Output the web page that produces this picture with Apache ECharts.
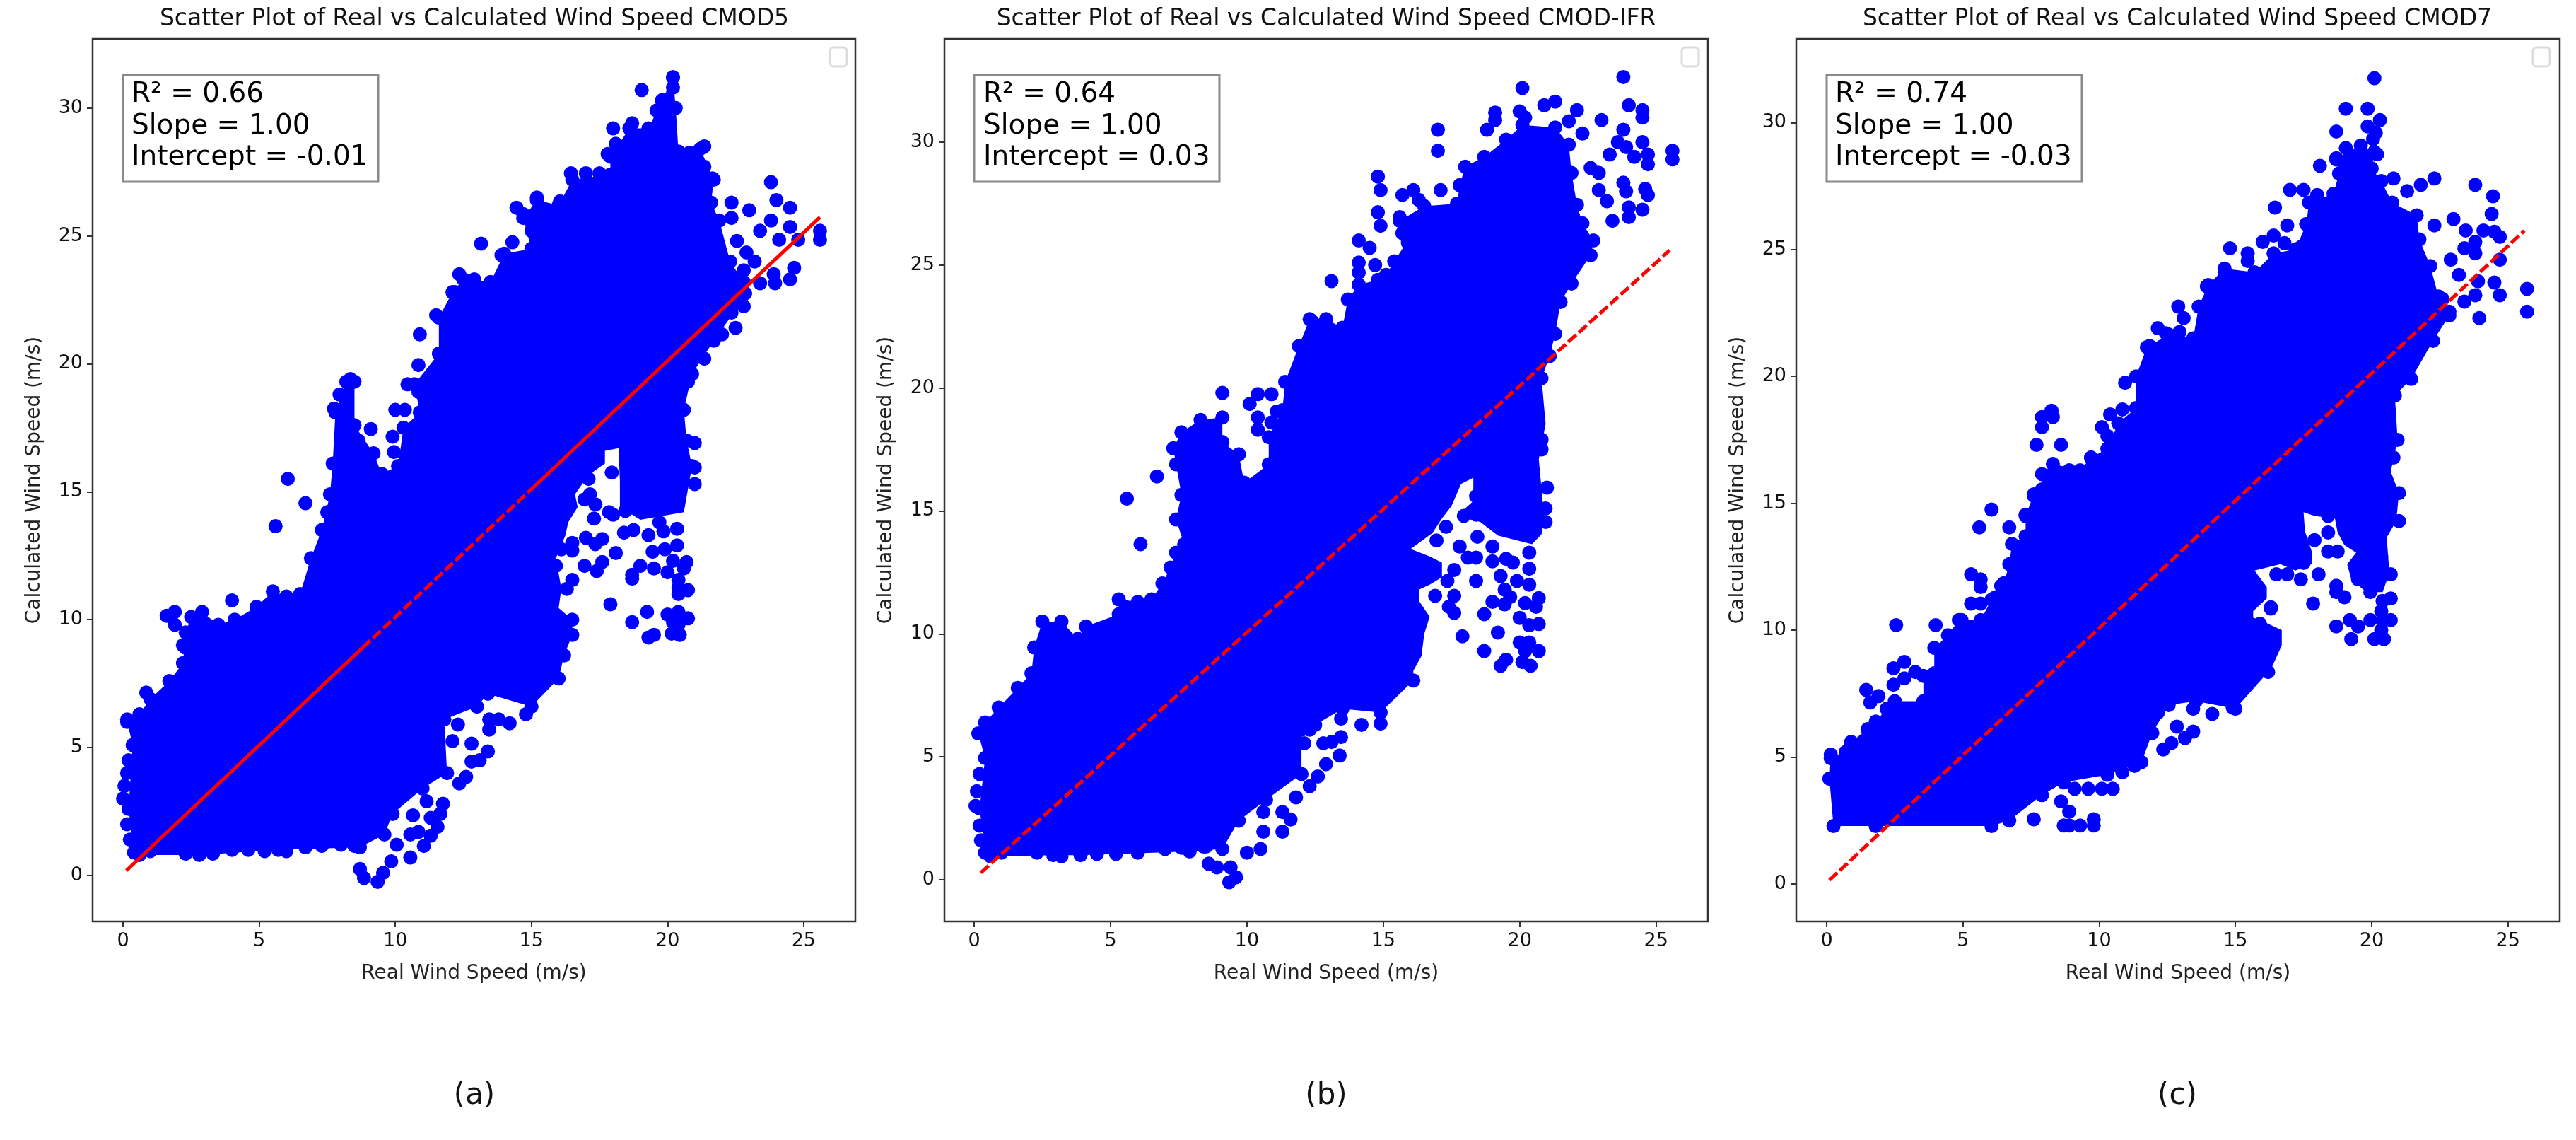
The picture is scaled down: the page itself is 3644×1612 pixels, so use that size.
<!DOCTYPE html>
<html><head><meta charset="utf-8">
<style>html,body{margin:0;padding:0;background:#fff}#c{width:3644px;height:1612px}</style>
<script src="https://cdn.jsdelivr.net/npm/echarts@6/dist/echarts.min.js"></script>
</head><body><div id="c"></div>
<script>
const titles = ["Scatter Plot of Real vs Calculated Wind Speed CMOD5","Scatter Plot of Real vs Calculated Wind Speed CMOD-IFR","Scatter Plot of Real vs Calculated Wind Speed CMOD7"];
const panelLabels = ["(a)","(b)","(c)"];
const xTicks = [0,5,10,15,20,25];
const yTicks = [0,5,10,15,20,25,30];
const statsA = ["R² = 0.66","Slope = 1.00","Intercept = -0.01"];
const statsB = ["R² = 0.64","Slope = 1.00","Intercept = 0.03"];
const statsC = ["R² = 0.74","Slope = 1.00","Intercept = -0.03"];
const fitA1 = [[0.12,0.19],[8.8,8.9]];
const fitA2 = [[8.8,8.9],[14.9,15.0]];
const fitA3 = [[14.9,15.0],[25.6,25.73]];
const fitB = [[0.24,0.28],[25.5,25.6]];
const fitC = [[0.1,0.15],[25.6,25.74]];
// outline of the fully saturated cloud of points, read clockwise off the picture.
// A third value of 0 marks an outline vertex with no visible point of its own (an edge of a gap).
const coreA = [[0.4,0.9],[0.2,2.6],[0.35,5.1],[0.15,6.0],[0.6,6.3],[1.0,6.9],[1.7,7.6],[2.2,8.3],[2.3,9.5],[2.5,10.1],[2.9,10.3],[3.5,9.8],[4.1,10.0],[4.9,10.5],[5.5,11.1],[6,10.9],[6.5,11],[6.9,12.4],[7.3,13.5],[7.6,14.9],[7.7,16.1],[7.8,18.1],[8.2,19.3],[8.5,19.3],[8.5,17.6],[9.2,16.5],[9.5,15.7],[10.1,16],[10.3,17.5],[10.9,18.1],[10.7,19.2],[11.6,20.4],[11.6,21.8],[12.1,22.8],[12.5,23.3],[13.5,23.2],[14,24.3],[15,24.5],[14.7,25.7],[15.2,26.4],[16,26.2],[16.5,27.2],[17.9,27.4],[17.9,28.1],[18.6,29.2],[19.3,29.2],[19.8,30.3],[20.2,31.2],[20.3,30],[20.4,28.3],[21.2,28.4],[21.7,27.2],[21.6,26.3],[21.9,25.6],[22.3,24],[22.8,23.2],[22.7,22.4],[21.7,20.9],[20.9,19.6],[20.6,18.2],[20.7,17],[20.9,16],[20.6,14.2,0],[19,13.9,0],[18.7,14.1,0],[18.25,14.15,0],[18.25,15.4,0],[18.2,16.7,0],[17.7,16.6,0],[17.7,16.1,0],[17.3,15.8,0],[16.9,15.35,0],[16.6,14.9,0],[16.7,14.4,0],[16.35,13.8,0],[16.25,13.3,0],[15.9,12.4,0],[16.1,11.2,0],[16,10.45,0],[16.5,10],[16.5,9.4],[16.2,8.6],[16,7.7],[15,6.6],[13.4,7.1],[13,6.6],[11.8,6.1],[11.9,4],[11,3.4],[9.9,2.4],[9.6,1.6],[8.7,1.1],[5.7,1],[2.8,0.8],[0.6,0.8]];
const coreB = [[0.4,1.1],[0.2,2.9],[0.4,4.95],[0.15,5.95],[0.4,6.4],[0.9,7],[1.6,7.8],[2.1,8.4],[2.2,9.45],[2.5,10.5],[3.2,10.5],[3.8,9.8],[4.1,10.3],[5.3,10.8],[5.3,11.4],[6,11.3],[6.5,11.4],[6.9,12.05],[7.2,12.7],[7.4,13.3],[7.7,13.65],[7.4,14.65],[7.6,15.65],[7.4,16.9],[7.3,17.55],[7.6,18.2],[8.3,18.7],[9.1,18.8],[9.1,17.8],[9.7,17.3],[9.9,16.15],[10.8,16.9],[10.8,18],[11.3,19.1],[11.4,20.25],[11.9,21.7],[12.3,22.8],[12.9,22.8],[13.5,22.45],[13.7,23.6],[14.1,24.2],[14.8,24.4],[15.1,24.6],[15.4,25.15],[15.9,26],[15.6,26.8],[16.5,27.4],[17.7,27.5],[17.8,28.25],[18,29],[18.7,29.4],[19.5,30.1],[20.1,30.7],[21.3,30.6],[21.8,29.9],[21.9,28.75],[22.1,27.45],[22.3,26.7],[22.7,26],[22.6,25.4],[21.9,24.25],[21.5,23.5],[21.3,22.2],[21.1,21.3],[20.8,20.4],[20.95,18.54,0],[20.7,17.1,0],[20.9,14.7,0],[20.8,14.05,0],[20.45,13.65,0],[19.2,14,0],[18.55,14.55,0],[17.7,14.8,0],[18.3,15.4,0],[18.3,16.35,0],[17.85,16.1,0],[17.5,15.2,0],[17.15,14.7,0],[16.8,14.1,0],[16,13.45,0],[16.7,13.15,0],[17.15,12.9,0],[17.15,12.3,0],[16.7,12,0],[16.3,11.8,0],[16.3,11.35,0],[16.7,10.7,0],[16.5,10,0],[16.4,9.1,0],[16.1,8.5,0],[16.1,8.1],[14.9,6.8],[13.5,6.95],[12.5,6.3],[12,6.1],[12,4.3],[10.7,3.25],[9.7,2.4],[9.1,1.25],[7.9,1.15],[3.9,1],[2.9,1],[0.6,0.95]];
const coreC = [[0.25,2.28],[0.1,4.15],[0.15,4.95],[0.7,5.2],[0.9,5.6],[1.5,6.1],[1.8,6.4],[2.2,6.9],[2.5,7.2],[3.55,7.2],[3.55,8.2],[3.95,8.3],[3.95,9.3],[4.45,9.8],[4.85,10.4],[5.65,10.4],[6.05,11.2],[6.5,11.85],[6.7,12.6],[6.8,13.4],[7.3,13.7],[7.3,14.5],[7.6,15.35],[7.9,15.55],[7.9,16.15],[8.3,16.55],[9.3,16.3],[9.7,16.8],[10.3,17.15],[10.7,18.15],[11.35,18.75],[11.35,20],[11.75,21.15],[12.55,21.65],[13.45,21.5],[13.65,22.75],[14,23.6],[14.6,24.25],[15.7,24.1],[16.4,24.85],[17.2,25],[17.6,26],[17.7,26.85],[18.6,27.2],[18.8,28],[18.7,28.6],[19.6,29.1],[20.1,28.85],[20,28.2],[20.35,27.7],[20.75,26.85],[21.65,26.35],[21.75,25.4],[22.15,24.35],[22.45,23.15],[22.85,22.4],[22.25,21.4],[21.45,19.9],[20.85,19.25],[20.95,17.5,0],[20.7,16.25,0],[21,15.4,0],[20.9,14.3,0],[20.55,13.65,0],[20.65,12.25,0],[20.4,11.5,0],[19.8,11.5,0],[19.25,12,0],[19.1,12.6,0],[19.43,13.05,0],[19,13.35,0],[18.75,13.85,0],[18.65,14.4,0],[17.9,14.5,0],[17.5,14.65,0],[17.55,13.9,0],[17.8,13.1,0],[17.8,12.6,0],[17.2,12.35,0],[16.65,12.6,0],[15.7,12.35,0],[16.15,11.7,0],[16.15,11.25,0],[15.65,10.75,0],[15.65,10.5,0],[16,10.35,0],[16.7,10,0],[16.7,9.4,0],[16.3,8.45,0],[16.2,8.35],[15,6.9],[13.55,7.2],[12.55,7.05],[11.95,5.95],[11.55,4.8],[10.3,4.3],[8.7,4],[7.9,3.5],[6.7,2.5],[6.05,2.28],[1.8,2.28]];
// individually visible points outside the saturated cloud
const dotsA = [[1,0.95],[1.5,1.15],[2.3,0.85],[3.3,0.85],[4,1],[4.6,1],[5.2,0.95],[6,0.95],[6.7,1.1],[7.3,1.15],[8,1.2],[0.25,1.4],[0.15,2],[0,3],[0.05,3.5],[0.15,4],[0.2,4.5],[2.2,9],[2.3,8.9],[20.2,31.2],[20.2,30.8],[19.05,30.7],[19.8,30.3],[19.6,29.9],[18,29.2],[18.7,29.4],[18.1,28.6],[17.8,28.2],[21.35,28.5],[20.8,28.25],[21.35,27.7],[16.45,27.45],[17,27.45],[17.5,27.45],[21.65,27.25],[23.8,27.1],[24,26.4],[24.5,26.1],[22.35,26.3],[23,26],[22.35,25.7],[25.6,25.2],[25.6,24.85],[15.2,26.5],[14.45,26.1],[14.7,25.85],[15.45,26.05],[16.05,26.35],[15,25.2],[13.15,24.7],[14.3,24.75],[13.9,24.25],[12.35,23.5],[12.9,23.3],[12.2,22.8],[11.5,21.9],[10.9,21.15],[10.85,19.95],[10.45,19.2],[10.85,18.9],[10,18.2],[10.35,18.2],[9.1,17.45],[9.9,17.15],[8.65,17],[9.95,16.55],[8.35,19.4],[7.95,18.8],[7.75,18.25],[6.05,15.5],[22.55,24.8],[22.9,24.35],[23.4,25.2],[23.8,25.6],[24.5,25.35],[24.8,24.85],[24.1,24.85],[23.2,24],[22.8,23.65],[23.9,23.5],[24.65,23.75],[24.5,23.3],[23.95,23.15],[23.4,23.15],[22.65,23.1],[22.85,22.75],[22.8,22.25],[22.35,22],[22.5,21.4],[22,21.15],[21.35,20.2],[20.75,19.3],[21,16.9],[21,15.95],[21,15.3],[17.95,15.75],[17.1,15.5],[17.15,14.9],[16.95,14.7],[17.35,14.5],[17.85,14.2],[18,14.1],[17.3,13.95],[18.45,14.25],[19,14.25],[18.4,13.4],[18.75,13.5],[19.3,13.3],[19.85,13.45],[20.35,13.55],[19.7,13.8],[17,13.2],[17.35,12.95],[17.6,13.15],[16.5,13],[16.5,12.7],[16.1,12.75],[18.1,12.6],[16.95,12.1],[17.6,12.25],[17.4,11.9],[16.5,11.55],[16.3,11.2],[15.9,12.1],[18.7,11.6],[18.7,11.75],[19,12.1],[19.45,12.65],[19.5,12],[19.9,12.75],[20.35,12.9],[20,11.85],[20.2,12.3],[20.7,12.25],[20.6,12],[20.4,11.55],[20.4,11.25],[20.75,11.15],[20.4,11],[17.9,10.6],[19.25,10.3],[18.7,9.9],[19.5,9.4],[19.3,9.3],[20,10.2],[20.4,10.3],[20.75,10.05],[20.15,9.45],[20.45,9.4],[20.2,9.9],[20.4,9.8],[6.7,14.55],[5.6,13.65],[7.5,14.2],[4,10.75],[1.6,10.15],[1.9,10.3],[1.9,9.8],[0.85,7.15],[0.15,6.1],[14.8,6.3],[14.2,5.95],[13.8,6.1],[13.45,6.1],[12.3,5.9],[13.45,5.7],[12.8,5.15],[13.4,4.85],[12.1,5.25],[12.8,4.45],[13.1,4.5],[12.6,3.85],[12.35,3.6],[11.15,2.9],[11.75,2.8],[10.65,2.35],[11.3,2.25],[11.65,2.4],[11.55,1.9],[11.3,1.55],[10.55,1.6],[10.85,1.7],[11.05,1.15],[10.55,0.7],[10.05,1.2],[9.85,0.55],[9.55,0.1],[9.35,-0.25],[8.85,-0.1],[8.7,0.25],[8.5,1.15]];
const dotsB = [[1,1.1],[1.6,1.25],[2.3,1.1],[3.2,0.95],[4.5,1.05],[5.2,1.05],[6,1.1],[7,1.25],[7.6,1.3],[8.4,1.35],[0.25,1.6],[0.2,2.2],[0.05,3],[0.1,3.6],[0.2,4.3],[20.1,32.2],[23.8,32.65],[21.3,31.65],[20.9,31.5],[24,31.5],[24.5,31.3],[22.1,31.3],[24.5,31],[23,30.9],[21.8,30.85],[20,31.25],[20.2,31],[19.1,31.2],[19.1,30.9],[18.8,30.5],[17,30.5],[17,29.65],[22.3,30.35],[23.8,30.5],[25.6,29.65],[25.6,29.3],[24.7,29.1],[24.7,29.5],[23.6,30],[24.5,30],[23.3,29.5],[23.9,29.8],[24.2,29.4],[22.6,28.95],[22.9,28.75],[23.8,28.35],[22.9,28.05],[23.9,28],[24.6,28.1],[24.7,27.85],[23.2,27.6],[24,27.35],[24.5,27.25],[24,26.95],[23.4,26.8],[14.8,28.6],[14.9,28.05],[16.1,28.05],[17.1,28.05],[15.7,27.85],[14.8,27.15],[15.6,26.95],[16.3,27.65],[14.9,26.6],[14.1,26],[14.5,25.7],[14.1,25.1],[14.7,25],[14.1,24.7],[13.1,24.35],[15.7,26.3],[15.9,25.9],[12.4,22.7],[9.1,19.8],[10.4,19.75],[10.9,19.75],[10.1,19.35],[10.4,18.8],[10.9,18.6],[11.1,19.05],[10.4,18.3],[9.7,17.3],[6.7,16.4],[21,15.95],[20.95,15.1],[20.95,14.55],[20.8,17.5],[20.8,17.9],[18.4,15.6],[18.9,15.35],[17.95,14.8],[18.4,14.85],[17.3,14.35],[16.95,13.8],[18.45,13.95],[17.8,13.55],[18.1,13.1],[18.4,13.1],[19,13.55],[19,12.95],[19.5,13.05],[19.75,12.9],[20.35,13.3],[20.35,12.65],[17.6,12.6],[17.35,12.15],[18.4,12.15],[19.3,12.35],[19.9,12.15],[20.35,12],[16.9,11.55],[17.6,11.55],[17.4,11.1],[17.6,10.85],[18.7,10.8],[19,11.3],[19.45,11.8],[19.65,11.5],[19.45,11.2],[20.2,11.25],[20.7,11.45],[20.6,11.1],[20,10.65],[20.35,10.35],[20.7,10.4],[17.9,9.9],[19.2,10.05],[18.7,9.3],[19.5,8.95],[19.3,8.7],[20,9.65],[20.35,9.65],[20.7,9.3],[20.1,8.85],[20.4,8.7],[20.2,9.3],[6.1,13.65],[5.6,15.5],[9.1,15.4],[12.3,3.8],[12.6,4.2],[12.9,4.7],[13.4,5.05],[13.1,5.6],[12.8,5.55],[13.45,5.8],[12.3,6.1],[12.1,5.55],[14.2,6.3],[14.9,6.35],[13.45,6.55],[11.8,3.35],[11.6,2.45],[11.3,2.75],[10.6,2.75],[11.3,1.95],[10.6,1.95],[10.5,1.25],[10,1.1],[9.4,0.5],[9.6,0.1],[9.35,-0.1],[8.9,0.5],[8.6,0.65],[8.5,1.35]];
const dotsC = [[20.1,31.75],[19.05,30.55],[19.85,30.55],[20.3,30.1],[19.85,29.85],[18.7,29.65],[20.15,29.6],[20.05,29.35],[19.05,29],[18.7,28.55],[18.1,28.3],[20.2,28.75],[20.8,27.8],[22.3,27.8],[21.8,27.55],[21.3,27.3],[23.8,27.55],[24.45,27.1],[24.4,26.4],[23,26.2],[22.3,25.95],[23.45,25.75],[24.1,25.75],[24.5,25.7],[24.7,25.5],[23.8,25.3],[23.4,25.05],[22.9,24.6],[24.7,24.6],[23.8,24.85],[23.2,24],[24.5,23.7],[23.9,23.75],[24.7,23.2],[25.7,23.45],[25.7,22.55],[23.95,22.3],[23.8,23.2],[23.4,22.95],[22.6,23.05],[22.85,22.55],[17,27.35],[17.5,27.35],[18,27.15],[16.45,26.65],[16.9,25.95],[17.6,26],[14.8,25.05],[15.45,24.85],[15.45,24.55],[16,25.3],[16.4,25.55],[16.8,25.25],[17.4,25.1],[13.95,23.55],[14.6,24.1],[12.9,22.75],[13.1,22.3],[12.15,21.9],[12.45,21.7],[12.95,21.75],[11.85,21.2],[10.95,19.75],[11.55,20],[10.85,18.7],[10.4,18.5],[8.25,18.65],[7.9,18],[7.7,17.3],[8.6,17.3],[9.7,16.8],[10.1,18],[10.3,17.65],[8.9,16.3],[7.9,18.4],[8.3,18.4],[7.6,15.3],[6.05,14.75],[5.6,14.05],[6.7,14.05],[7.3,14.55],[5.3,12.2],[5.65,12],[5.65,11.7],[5.3,11.05],[5.65,11.05],[6.2,11.3],[6.4,11.75],[2.55,10.2],[4,10.2],[4.95,10.4],[2.85,8.75],[2.45,8.5],[2.45,7.85],[3.25,8.35],[2.85,8.1],[1.45,7.65],[1.9,7.4],[1.6,7.15],[0.9,5.55],[0.15,5.1],[0.1,4.15],[7.6,2.55],[8.6,3.25],[8.9,2.85],[8.7,2.3],[8.9,2.3],[9.3,2.3],[9.8,2.55],[9.8,2.3],[9.1,3.75],[9.6,3.75],[10.1,3.75],[10.5,3.75],[11.3,4.65],[10.85,4.4],[12.35,5.3],[12.65,5.55],[13.15,5.75],[13.45,6],[12.85,6.2],[13.45,6.9],[14.15,6.7],[14.9,6.95],[12.15,6.75],[12.55,7.15],[16.3,10.9],[15.9,10.25],[20.7,11.25],[20.4,11.15],[20.35,10.75],[20.7,10.4],[19.95,10.4],[20.4,10.4],[20.1,9.65],[20.45,9.65],[20.35,10],[19.2,10.4],[19.5,10.15],[18.7,10.15],[19.25,9.65],[17.85,11.05],[18.7,11.75],[18.7,11.5],[19,11.3],[19.5,12],[19.95,11.5],[20.7,12.2],[16.3,10.85],[18.05,12.2],[17.4,12],[16.9,12.2],[16.5,12.2],[17.5,12.65],[18.4,13.85],[17.9,13.55],[18.4,13.1],[18.75,13.1],[18.4,14.5],[21,15.4],[21,14.3],[20.95,17.5],[20.8,16.8],[20.35,12.9]];

const DASH=[15,5];
const panels = [
 {title:titles[0],label:panelLabels[0],stats:statsA,fits:[[fitA1,'solid'],[fitA2,DASH],[fitA3,'solid']],core:coreA,dots:dotsA,left:131,w:1079,xr:[-1.12,26.9],yr:[-1.8,32.7],cx:671,box:[174,361],textX:186,legX:1174},
 {title:titles[1],label:panelLabels[1],stats:statsB,fits:[[fitB,DASH]],core:coreB,dots:dotsB,left:1336,w:1080,xr:[-1.09,26.9],yr:[-1.7,34.2],cx:1876,box:[1378,347],textX:1391,legX:2379},
 {title:titles[2],label:panelLabels[2],stats:statsC,fits:[[fitC,DASH]],core:coreC,dots:dotsC,left:2541,w:1080,xr:[-1.115,26.9],yr:[-1.48,33.3],cx:3080,box:[2584,361],textX:2596,legX:3583}
];
const TOP=55, H=1248, FONT='"DejaVu Sans"', BLUE='#0000ff';
const grid=[],xAxis=[],yAxis=[],series=[],graphic=[];
panels.forEach((p,i)=>{
 grid.push({left:p.left,top:TOP,width:p.w,height:H,show:true,borderColor:'#333',borderWidth:2.5,backgroundColor:'#fff'});
 xAxis.push({type:'value',gridIndex:i,min:p.xr[0],max:p.xr[1],splitLine:{show:false},axisLine:{show:false,onZero:false},
  axisTick:{show:true,length:8,customValues:xTicks,lineStyle:{color:'#333',width:2}},
  axisLabel:{customValues:xTicks,margin:14,fontFamily:FONT,fontSize:27,color:'#111'},
  name:'Real Wind Speed (m/s)',nameLocation:'middle',nameGap:60,nameTextStyle:{fontFamily:FONT,fontSize:28,color:'#222'}});
 yAxis.push({type:'value',gridIndex:i,min:p.yr[0],max:p.yr[1],splitLine:{show:false},axisLine:{show:false,onZero:false},
  axisTick:{show:true,length:8,customValues:yTicks,lineStyle:{color:'#333',width:2}},
  axisLabel:{customValues:yTicks,margin:14,fontFamily:FONT,fontSize:27,color:'#111'},
  name:'Calculated Wind Speed (m/s)',nameLocation:'middle',nameGap:68,nameTextStyle:{fontFamily:FONT,fontSize:28,color:'#222'}});
 series.push({type:'custom',xAxisIndex:i,yAxisIndex:i,silent:true,animation:false,z:2,data:p.core.map(c=>[c[0],c[1]]),
  renderItem:(params,api)=>params.dataIndex===0?{type:'polygon',shape:{points:p.core.map(c=>api.coord([c[0],c[1]]))},style:{fill:BLUE}}:null});
 series.push({type:'scatter',xAxisIndex:i,yAxisIndex:i,silent:true,animation:false,z:3,symbolSize:20,itemStyle:{color:BLUE,opacity:1},data:p.core.filter(c=>c.length===2).concat(p.dots)});
 p.fits.forEach(f=>series.push({type:'line',xAxisIndex:i,yAxisIndex:i,silent:true,animation:false,z:4,symbol:'none',data:f[0],lineStyle:{color:'#ff0000',width:5,type:f[1]}}));
 graphic.push({type:'text',silent:true,x:p.cx,y:27,style:{text:p.title,fill:'#111',font:'33px '+FONT,textAlign:'center',textVerticalAlign:'middle'}});
 graphic.push({type:'rect',silent:true,z:10,shape:{x:p.box[0],y:106,width:p.box[1],height:151},style:{fill:'#fff',stroke:'#8a8a8a',lineWidth:3}});
 p.stats.forEach((s,k)=>graphic.push({type:'text',silent:true,z:11,x:p.textX,y:134+k*44.5,style:{text:s,fill:'#000',font:'39px '+FONT,textVerticalAlign:'middle'}}));
 graphic.push({type:'rect',silent:true,z:10,shape:{x:p.legX,y:67,width:24,height:27,r:5},style:{fill:'#fff',stroke:'#dcdcdc',lineWidth:3}});
 graphic.push({type:'text',silent:true,x:p.cx,y:1550,style:{text:p.label,fill:'#111',font:'42px '+FONT,textAlign:'center',textVerticalAlign:'middle'}});
});
const chart=echarts.init(document.getElementById('c'),null,{renderer:'canvas',width:3644,height:1612});
chart.setOption({animation:false,backgroundColor:'#fff',grid,xAxis,yAxis,series,graphic});
</script></body></html>
